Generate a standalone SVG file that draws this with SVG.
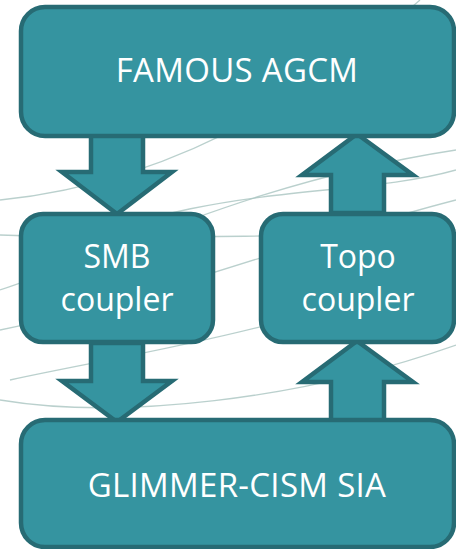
<svg xmlns="http://www.w3.org/2000/svg" width="456" height="549" viewBox="0 0 456 549">
<style>
.box{fill:#3594a0;stroke:#276b74;stroke-width:4.5}
.arr{fill:#3594a0;stroke:#276b74;stroke-width:4.5;stroke-linejoin:miter}
.t{font-family:"Open Sans","Liberation Sans",sans-serif;font-size:32px;fill:#ffffff;text-anchor:middle}
.big{font-size:33px;letter-spacing:0.3px}
.bg{fill:none;stroke:#a9c4c1;stroke-width:1.3;opacity:0.8}
</style>
<rect width="456" height="549" fill="#ffffff"/>
<g id="background">
<path class="bg" d="M0,290 C120,250 260,180 456,150"/>
<path class="bg" d="M0,330 C150,300 300,240 456,200"/>
<path class="bg" d="M0,200 C100,190 250,150 420,0"/>
<path class="bg" d="M10,380 C150,350 300,330 456,260"/>
<path class="bg" d="M0,400 C120,420 300,400 456,345"/>
<path class="bg" d="M40,260 C200,180 350,200 456,170"/>
<path class="bg" d="M0,235 C150,240 350,235 456,230"/>
</g>
<g id="connectors">
<path class="arr" d="M91,135 L143,135 L143,172 L172,172 L117,214 L62,172 L91,172 Z"/>
<path class="arr" d="M331,213 L384,213 L384,175 L413,175 L357,134 L302,175 L331,175 Z"/>
<path class="arr" d="M91,343 L143,343 L143,381 L172,381 L117,422 L62,381 L91,381 Z"/>
<path class="arr" d="M331,421 L384,421 L384,382 L413,382 L357,341 L302,382 L331,382 Z"/>
</g>
<g id="famous">
<rect class="box" x="21" y="7" width="433" height="129" rx="24"/>
<text class="t big" x="237" y="82">FAMOUS AGCM</text>
</g>
<g id="smb">
<rect class="box" x="21" y="214" width="192" height="128" rx="22"/>
<text class="t" x="117" y="268">SMB</text>
<text class="t" x="117" y="311">coupler</text>
</g>
<g id="topo">
<rect class="box" x="261" y="214" width="193" height="128" rx="22"/>
<text class="t" x="358" y="268">Topo</text>
<text class="t" x="358" y="311">coupler</text>
</g>
<g id="glimmer">
<rect class="box" x="21" y="420" width="433" height="127" rx="24"/>
<text class="t big" x="237" y="497">GLIMMER-CISM SIA</text>
</g>
</svg>
